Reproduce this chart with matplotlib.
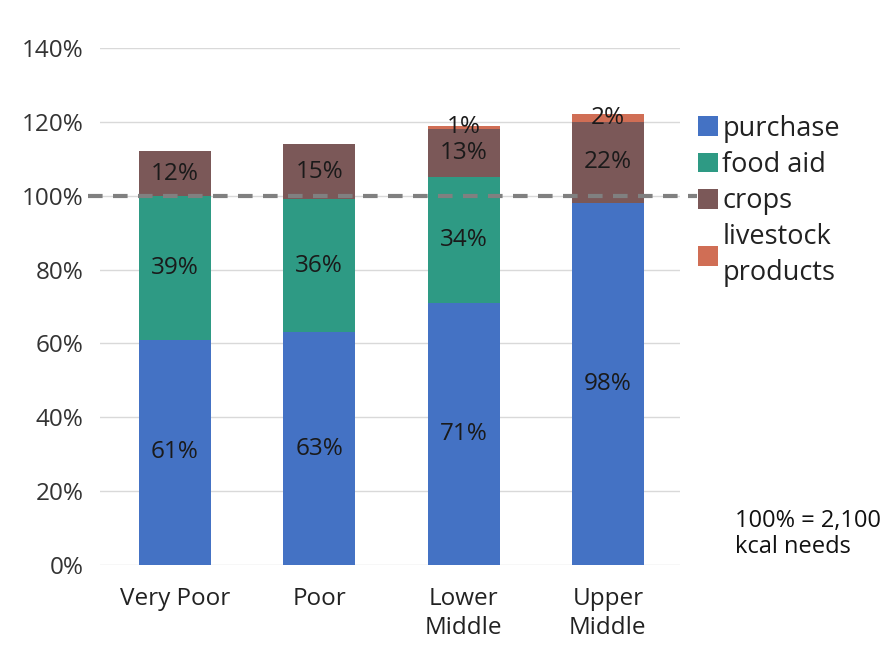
import matplotlib
matplotlib.use("Agg")
import matplotlib.pyplot as plt
import numpy as np

categories = ["Very Poor", "Poor", "Lower\nMiddle", "Upper\nMiddle"]
purchase = [61, 63, 71, 98]
food_aid = [39, 36, 34, 0]
crops = [12, 15, 13, 22]
livestock = [0, 0, 1, 2]
series_names = ["purchase", "food aid", "crops", "livestock\nproducts"]
colors = ["#4472C4", "#2E9A84", "#7B5858", "#D06E55"]
yticks = [0, 20, 40, 60, 80, 100, 120, 140]

plt.rcParams['font.family'] = ['Open Sans', 'DejaVu Sans']

fig = plt.figure(figsize=(8.85, 6.56), dpi=100)
W, H = 885, 656
ax = fig.add_axes([100 / W, (656 - 565) / H, 580 / W, (565 - 48) / H])

x = np.arange(len(categories))
series = [purchase, food_aid, crops, livestock]
bottom = np.zeros(len(categories))
handles = []
for vals, name, col in zip(series, series_names, colors):
    vals = np.array(vals, dtype=float)
    b = ax.bar(x, vals, 0.5, bottom=bottom, color=col, label=name, zorder=3)
    handles.append(b)
    for xi, v, bt in zip(x, vals, bottom):
        if v > 0:
            ax.text(xi, bt + v / 2, f"{int(v)}%", ha="center", va="center",
                    fontsize=17.5, color="#1a1a1a", zorder=5)
    bottom += vals

ax.set_xlim(-0.52, 3.5)
ax.set_ylim(0, 140)
ax.set_yticks(yticks)
ax.set_yticklabels([f"{t}%" for t in yticks], fontsize=17.5, color="#333333")
ax.set_xticks(x)
ax.set_xticklabels(categories, fontsize=17.5, color="#222222", linespacing=1.25)
ax.tick_params(axis="both", length=0)
ax.tick_params(axis="y", pad=12)
ax.tick_params(axis="x", pad=16)
ax.yaxis.grid(True, color="#d9d9d9", linewidth=1, zorder=0)
ax.set_axisbelow(True)
for s in ax.spines.values():
    s.set_visible(False)

# dashed 100% line
ax.plot([-0.6, 3.62], [100, 100], color="#808080", linewidth=3,
        linestyle=(0, (3.5, 2.5)), zorder=6, clip_on=False)

leg = fig.legend(handles=handles, labels=series_names, loc="upper left",
                 bbox_to_anchor=(687 / W, 1 - 104 / H), frameon=False,
                 fontsize=19.5, handlelength=0.75, handleheight=0.75,
                 handletextpad=0.15, labelspacing=0.3, borderaxespad=0)
for t in leg.get_texts():
    t.set_color("#222222")
    t.set_linespacing(1.35)

fig.text(735 / W, 1 - 534 / H, "100% = 2,100\nkcal needs", fontsize=17,
         color="#111111", va="center", ha="left", linespacing=1.1)

fig.savefig("out.png", dpi=100)
